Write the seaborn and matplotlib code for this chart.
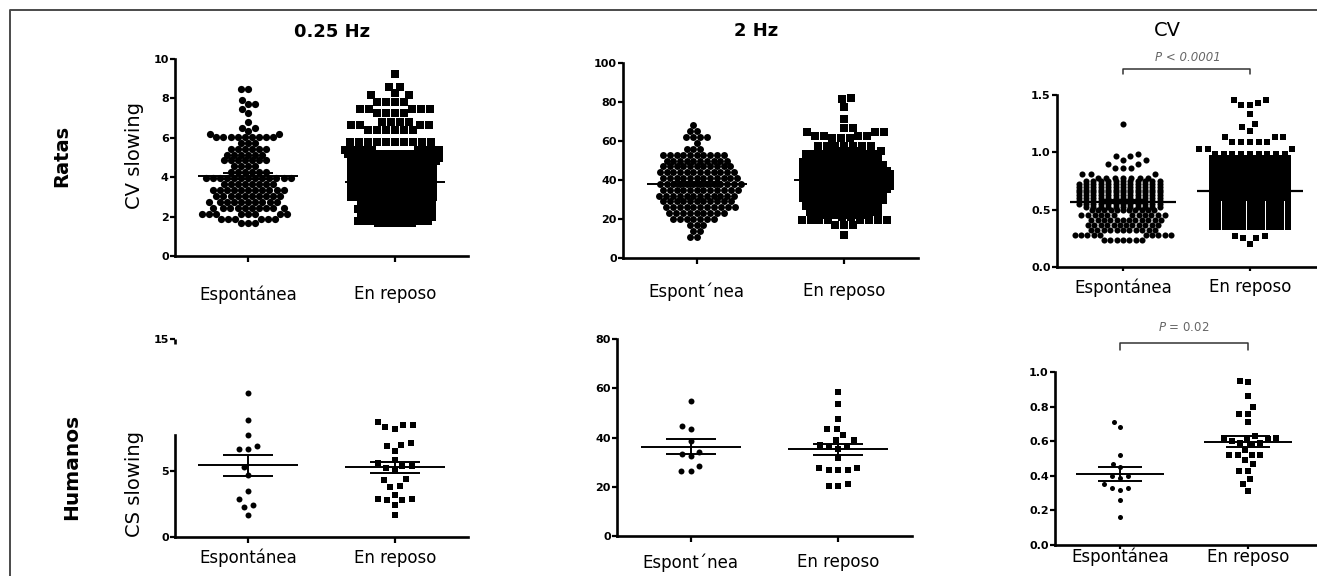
import numpy as np
import matplotlib
matplotlib.use("Agg")
import matplotlib.pyplot as plt
import matplotlib.transforms as mtransforms
from matplotlib.lines import Line2D
import seaborn as sns

# ---------------- data ----------------
groups = ["Espontánea", "En reposo"]
groups_2hz = ["Espont´nea", "En reposo"]
col_titles = ["0.25 Hz", "2 Hz", "CV"]
row_titles = ["Ratas", "Humanos"]
y_titles = ["CV slowing", "CS slowing"]
p_rats = "P < 0.0001"
p_humans = r"$\it{P}$ = 0.02"

# Rats: values binned in rows (value level, number of animals at that level)
rat025_esp_levels = [8.5, 7.9, 7.7, 7.45, 7.25, 6.8, 6.5, 6.35, 6.2, 6.05, 5.75, 5.45,
                     5.15, 4.85, 4.55, 4.25, 3.95, 3.65, 3.35, 3.05, 2.75, 2.45, 2.15,
                     1.9, 1.7]
rat025_esp_counts = [2, 1, 2, 1, 1, 1, 2, 1, 2, 9, 3, 6,
                     6, 7, 4, 6, 13, 8, 11, 10, 10, 10, 8,
                     6, 3]

rat025_rep_levels = [9.25, 8.6, 8.25, 8.15, 7.8, 7.45, 7.25, 6.8, 6.65, 6.4, 5.8,
                     5.4, 5.2, 5.0, 4.8, 4.6, 4.4, 4.2, 4.0, 3.8, 3.6, 3.4, 3.2, 3.0, 2.8,
                     2.7, 2.6, 2.5, 2.4, 2.3, 2.2, 2.1, 2.0, 1.9, 1.8, 1.7]
rat025_rep_counts = [1, 2, 1, 2, 4, 5, 4, 4, 4, 6, 10,
                     11, 11, 10, 10, 9, 9, 9, 9, 9, 9, 9, 9, 9, 9,
                     11, 11, 11, 11, 11, 11, 11, 11, 11, 11, 11]

rat2_esp_levels = [68, 65, 62, 59, 56, 53, 50, 47, 44, 41, 38, 35, 32, 29, 26, 23, 20,
                   17, 14, 11]
rat2_esp_counts = [1, 2, 4, 1, 3, 10, 10, 11, 12, 12, 13, 12, 12, 11, 11, 9, 7,
                   3, 2, 2]

rat2_rep_levels = [82, 81.5, 77.3, 71.3, 66.5, 64.8, 62.7, 61.4, 57.4,
                   55, 53.5, 52, 50.5, 49, 47.5, 46, 44.5, 43, 41.5, 40, 38.5, 37, 35.5,
                   34, 32.5, 31, 29.5, 28, 26.5, 25, 23.5, 22,
                   21.2, 19.5, 17, 11.8]
rat2_rep_counts = [1, 1, 1, 1, 2, 3, 4, 3, 7,
                   10, 9, 9, 9, 10, 10, 10, 11, 11, 11, 11, 11, 11, 11,
                   10, 10, 10, 10, 9, 9, 9, 8, 9,
                   2, 8, 3, 1]

ratcv_esp_levels = [1.245, 0.985, 0.965, 0.93, 0.90, 0.86, 0.815, 0.78,
                    0.75, 0.725, 0.70, 0.675, 0.65, 0.625, 0.60, 0.575, 0.55, 0.525,
                    0.50, 0.455, 0.41, 0.365, 0.32, 0.275, 0.235]
ratcv_esp_counts = [1, 1, 2, 2, 2, 3, 3, 7,
                    11, 12, 12, 12, 12, 12, 12, 12, 12, 11,
                    11, 12, 12, 12, 11, 10, 7]

ratcv_rep_levels = [1.455, 1.43, 1.41, 1.33, 1.25, 1.22, 1.19, 1.13, 1.09, 1.03, 0.985,
                    0.95, 0.925, 0.9, 0.875, 0.85, 0.825, 0.8, 0.775, 0.75, 0.725,
                    0.7, 0.675, 0.65, 0.625, 0.6,
                    0.58, 0.565, 0.55, 0.535, 0.515, 0.5, 0.485, 0.465, 0.45, 0.435,
                    0.415, 0.4, 0.385, 0.365, 0.35,
                    0.27, 0.25, 0.2]
ratcv_rep_counts = [2, 1, 2, 1, 1, 1, 1, 3, 5, 3, 9,
                    15, 15, 15, 15, 15, 15, 15, 15, 15, 15,
                    15, 15, 15, 15, 15,
                    13, 13, 13, 13, 13, 13, 13, 13, 13, 13,
                    13, 13, 13, 13, 13,
                    2, 2, 1]

# Humans: individual subjects
hum025_esp = [10.9, 8.9, 7.7, 6.9, 6.7, 6.7, 5.3, 4.7, 3.5, 2.9, 2.4, 2.3, 1.7]
hum025_rep = [8.7, 8.5, 8.5, 8.3, 8.2, 7.1, 7.0, 6.9, 6.5, 5.8, 5.6, 5.4, 5.4, 5.2,
              5.0, 4.4, 4.3, 3.9, 3.8, 3.2, 2.9, 2.9, 2.8, 2.8, 2.4, 1.7]
hum2_esp = [55, 44.5, 43.5, 38.5, 34, 33.5, 32.5, 28.5, 26.5, 26.5]
hum2_rep = [58.5, 53.5, 47.5, 43.5, 43.5, 41, 39, 39, 37, 36.5, 36, 35.5, 31.5,
            27.5, 27.5, 27, 27, 27, 21, 20.5, 20.5]
humcv_esp = [0.71, 0.68, 0.52, 0.47, 0.45, 0.40, 0.40, 0.39, 0.35, 0.33, 0.33, 0.32,
             0.26, 0.16]
humcv_rep = [0.95, 0.94, 0.86, 0.80, 0.76, 0.76, 0.71, 0.63, 0.62, 0.62, 0.62, 0.61,
             0.60, 0.59, 0.59, 0.58, 0.55, 0.52, 0.52, 0.52, 0.52, 0.49, 0.47, 0.43,
             0.43, 0.38, 0.35, 0.31]

yticks_rat025 = [0, 2, 4, 6, 8, 10]
yticks_rat2 = [0, 20, 40, 60, 80, 100]
yticks_ratcv = [0.0, 0.5, 1.0, 1.5]
yticks_hum025 = [0, 5, 15]
yticks_hum2 = [0, 20, 40, 60, 80]
yticks_humcv = [0.0, 0.2, 0.4, 0.6, 0.8, 1.0]

# ---------------- style ----------------
sns.set_theme(style="ticks")
plt.rcParams["font.family"] = ["DejaVu Sans"]
plt.rcParams["mathtext.fontset"] = "dejavusans"
plt.rcParams["text.color"] = "black"
plt.rcParams["axes.labelcolor"] = "black"
plt.rcParams["xtick.color"] = "black"
plt.rcParams["ytick.color"] = "black"

W, H = 1317, 576
fig = plt.figure(figsize=(W / 100, H / 100), dpi=100)
fig.patch.set_facecolor("white")


def box(left, top, right, bottom):
    return [left / W, 1 - bottom / H, (right - left) / W, (bottom - top) / H]


def fpos(x, y):
    return x / W, 1 - y / H


LAYOUT = []   # (collection, drawn marker size, vertical stretch used for packing)
NEG = -np.inf


def expand(levels, counts):
    return np.repeat(np.asarray(levels, float), counts)


def dots(ax, values, pos, cats, marker, size, tiers):
    """Swarm of one group.  Each tier (lower bound, packing scale, vertical
    stretch) is packed separately; markers are then drawn at `size`."""
    values = np.asarray(values, float)
    taken = np.zeros(len(values), bool)
    for lower, k, stretch in tiers:
        sel = (values >= lower) & ~taken
        taken |= sel
        vals = values[sel]
        if len(vals) == 0:
            continue
        n_before = len(ax.collections)
        sns.swarmplot(x=[cats[pos]] * len(vals), y=vals, order=cats, marker=marker,
                      size=size * k, color="black", linewidth=0, ax=ax,
                      warn_thresh=1.0)
        for coll in ax.collections[n_before:]:
            if len(coll.get_offsets()) > 0:
                LAYOUT.append((coll, size, stretch))


def mean_sem(ax, values, pos, half_mean=0.34, half_sem=0.17, lw=1.4):
    v = np.asarray(values, float)
    m = v.mean()
    s = v.std(ddof=1) / np.sqrt(len(v))
    ax.hlines(m, pos - half_mean, pos + half_mean, colors="black", lw=lw, zorder=5)
    ax.hlines([m - s, m + s], pos - half_sem, pos + half_sem, colors="black", lw=lw,
              zorder=5)
    ax.vlines(pos, m - s, m + s, colors="black", lw=lw, zorder=5)


def style(ax, xlim, ylim, yticks, fmt, cats, xpad, xlen=4.0):
    ax.set_xlim(*xlim)
    ax.set_ylim(*ylim)
    ax.set_yticks(yticks)
    ax.set_yticklabels([fmt(v) for v in yticks], fontsize=8, fontweight="bold")
    ax.set_xticks([0, 1])
    ax.set_xticklabels(cats, fontsize=12)
    ax.set_xlabel("")
    ax.set_ylabel("")
    sns.despine(ax=ax)
    for s in ("left", "bottom"):
        ax.spines[s].set_linewidth(1.9)
        ax.spines[s].set_color("black")
    ax.tick_params(axis="y", length=3.5, width=1.6, pad=1, colors="black")
    ax.tick_params(axis="x", length=xlen, width=1.6, pad=xpad, colors="black")
    ax.set_facecolor("white")


fmt_int = lambda v: f"{v:g}"
fmt_dec = lambda v: f"{v:.1f}"

# ---------------- rats ----------------
ax_a = fig.add_axes(box(175, 59, 468, 256))
dots(ax_a, expand(rat025_esp_levels, rat025_esp_counts), 0, groups, "o", 5.2,
     [(NEG, 0.94, 1)])
dots(ax_a, expand(rat025_rep_levels, rat025_rep_counts), 1, groups, "s", 5.6,
     [(5.6, 1.1, 1), (2.75, 0.62, 1), (NEG, 0.42, 1)])
mean_sem(ax_a, expand(rat025_esp_levels, rat025_esp_counts), 0)
mean_sem(ax_a, expand(rat025_rep_levels, rat025_rep_counts), 1)
style(ax_a, (-0.5, 1.5), (0, 10), yticks_rat025, fmt_int, groups, 17)

ax_b = fig.add_axes(box(623, 63, 918, 258))
dots(ax_b, expand(rat2_esp_levels, rat2_esp_counts), 0, groups_2hz, "o", 5.0,
     [(NEG, 0.96, 1)])
dots(ax_b, expand(rat2_rep_levels, rat2_rep_counts), 1, groups_2hz, "s", 5.5,
     [(56.5, 1.1, 1), (21.8, 0.55, 1), (NEG, 1.1, 1)])
mean_sem(ax_b, expand(rat2_esp_levels, rat2_esp_counts), 0)
mean_sem(ax_b, expand(rat2_rep_levels, rat2_rep_counts), 1)
style(ax_b, (-0.5, 1.5), (0, 100), yticks_rat2, fmt_int, groups_2hz, 13.5)

ax_c = fig.add_axes(box(1057, 95, 1317, 267))
dots(ax_c, expand(ratcv_esp_levels, ratcv_esp_counts), 0, groups, "o", 4.4,
     [(0.77, 1.3, 1), (0.515, 1.15, 2.5), (NEG, 0.98, 1)])
dots(ax_c, expand(ratcv_rep_levels, ratcv_rep_counts), 1, groups, "s", 4.8,
     [(0.97, 1.25, 1), (0.59, 0.78, 2.5), (0.3, 0.9, 4.2), (NEG, 1.25, 1)])
mean_sem(ax_c, expand(ratcv_esp_levels, ratcv_esp_counts), 0, half_mean=0.42, lw=1.6)
mean_sem(ax_c, expand(ratcv_rep_levels, ratcv_rep_counts), 1, half_mean=0.42, lw=1.6)
style(ax_c, (-0.52, 1.53), (0, 1.5), yticks_ratcv, fmt_dec, groups, 5.0, xlen=3.0)

# ---------------- humans ----------------
ax_d = fig.add_axes(box(175, 339, 468, 537))
dots(ax_d, hum025_esp, 0, groups, "o", 4.3, [(NEG, 1.5, 1)])
dots(ax_d, hum025_rep, 1, groups, "s", 4.8, [(NEG, 1.35, 1)])
mean_sem(ax_d, hum025_esp, 0)
mean_sem(ax_d, hum025_rep, 1)
style(ax_d, (-0.5, 1.5), (0, 15), yticks_hum025, fmt_int, groups, 4.5)
ax_d.spines["left"].set_bounds(0, 7.7)
hook = mtransforms.blended_transform_factory(ax_d.transAxes, ax_d.transData)
ax_d.plot([0, 0], [15, 14.6], transform=hook, color="black", lw=1.9, clip_on=False,
          solid_capstyle="butt")

ax_e = fig.add_axes(box(617, 339, 912, 536))
dots(ax_e, hum2_esp, 0, groups_2hz, "o", 4.3, [(NEG, 1.5, 1)])
dots(ax_e, hum2_rep, 1, groups_2hz, "s", 4.8, [(NEG, 1.35, 1)])
mean_sem(ax_e, hum2_esp, 0)
mean_sem(ax_e, hum2_rep, 1)
style(ax_e, (-0.5, 1.5), (0, 80), yticks_hum2, fmt_int, groups_2hz, 8.5)

ax_f = fig.add_axes(box(1055, 372, 1317, 545))
dots(ax_f, humcv_esp, 0, groups, "o", 3.6, [(NEG, 1.6, 1)])
dots(ax_f, humcv_rep, 1, groups, "s", 4.1, [(NEG, 1.45, 1)])
mean_sem(ax_f, humcv_esp, 0, half_mean=0.345)
mean_sem(ax_f, humcv_rep, 1, half_mean=0.345)
style(ax_f, (-0.51, 1.54), (0, 1.0), yticks_humcv, fmt_dec, groups, -1.0, xlen=3.0)

# significance brackets
ax_c.plot([0, 0, 1, 1], [1.68, 1.73, 1.73, 1.68], color="#333333", lw=1.1, clip_on=False)
ax_c.text(0.51, 1.83, p_rats, ha="center", va="center", fontsize=8.5, style="italic",
          color="#666666", clip_on=False)
ax_f.plot([0, 0, 1, 1], [1.13, 1.17, 1.17, 1.13], color="#333333", lw=1.1, clip_on=False)
ax_f.text(0.5, 1.26, p_humans, ha="center", va="center", fontsize=8.5,
          color="#666666", clip_on=False)

# column and row headings
fig.text(*fpos(332, 32), col_titles[0], ha="center", va="center", fontsize=13,
         fontweight="bold")
fig.text(*fpos(756, 31), col_titles[1], ha="center", va="center", fontsize=13,
         fontweight="bold")
fig.text(*fpos(1167, 30), col_titles[2], ha="center", va="center", fontsize=14)
fig.text(*fpos(62, 156), row_titles[0], ha="center", va="center", fontsize=14,
         fontweight="bold", rotation=90)
fig.text(*fpos(72, 467), row_titles[1], ha="center", va="center", fontsize=14.5,
         fontweight="bold", rotation=90)
fig.text(*fpos(135, 156), y_titles[0], ha="center", va="center", fontsize=14,
         rotation=90)
fig.text(*fpos(135, 484), y_titles[1], ha="center", va="center", fontsize=14,
         rotation=90)

# outer frame (top and left edges)
fig.add_artist(Line2D([10 / W, 10 / W, 1.0], [0.0, 1 - 10 / H, 1 - 10 / H],
                      transform=fig.transFigure, color="#4a4a4a", lw=1.4))

# Pack the swarms: each pass stretches the value axes so that dense rows are
# spread apart while packing, then the packed offsets are frozen.
final_ylim = {ax: ax.get_ylim() for ax in fig.axes}
for stretch in sorted({s for _, _, s in LAYOUT}):
    for ax, (y0, y1) in final_ylim.items():
        ax.set_ylim(y0, y0 + (y1 - y0) / stretch)
    fig.canvas.draw()
    for coll, size, s in LAYOUT:
        if s == stretch and "draw" in coll.__dict__:
            del coll.draw
for ax, lim in final_ylim.items():
    ax.set_ylim(*lim)
for coll, size, s in LAYOUT:
    coll.set_sizes([size ** 2])

fig.savefig("out.png", dpi=100, facecolor="white")
